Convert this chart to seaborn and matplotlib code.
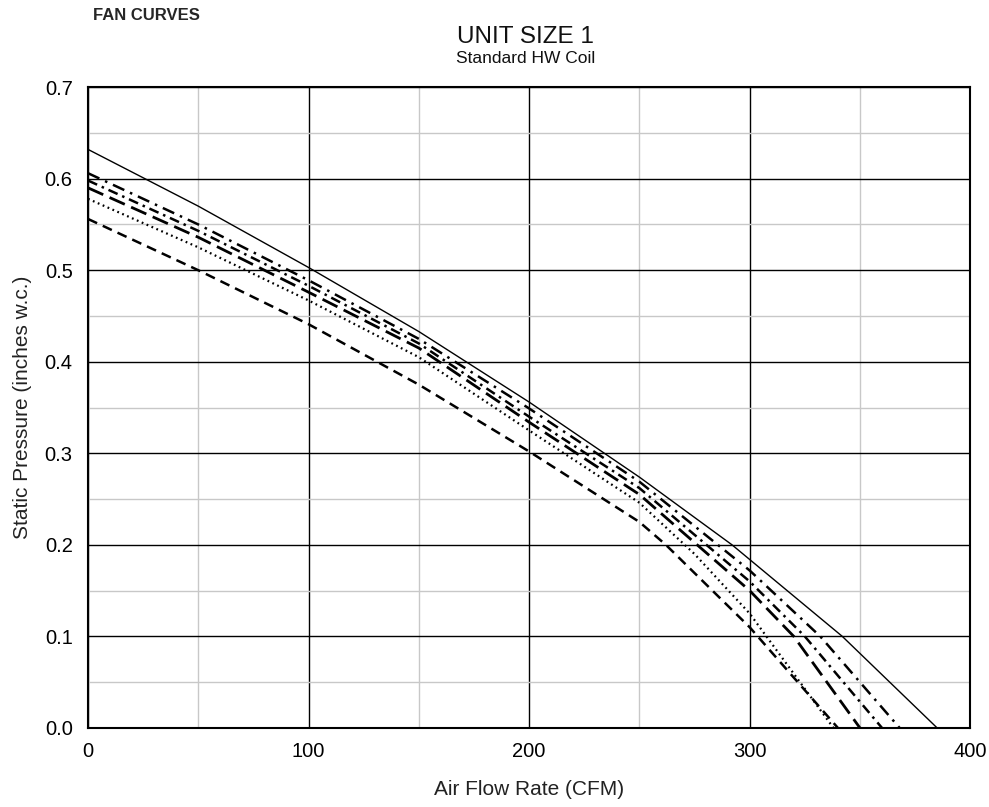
import matplotlib
matplotlib.use("Agg")
import matplotlib.pyplot as plt
from matplotlib.ticker import MultipleLocator
import seaborn as sns
import pandas as pd

sns.set_theme(style="white")
plt.rcParams["font.family"] = ["Liberation Sans", "DejaVu Sans"]

# Fan curves, airflow (CFM) vs static pressure (in. w.c.)
cfm_solid = [0, 50, 100, 150, 200, 250, 292, 342, 385]
sp_solid = [0.632, 0.570, 0.503, 0.433, 0.356, 0.274, 0.200, 0.100, 0.0]

cfm_dashdotdot = [0, 50, 100, 150, 200, 250, 300, 332, 368]
sp_dashdotdot = [0.606, 0.550, 0.489, 0.425, 0.349, 0.269, 0.172, 0.100, 0.0]

cfm_dashdot = [0, 50, 100, 150, 200, 250, 300, 325, 360]
sp_dashdot = [0.598, 0.543, 0.483, 0.420, 0.340, 0.262, 0.160, 0.100, 0.0]

cfm_longdash = [0, 50, 100, 150, 200, 250, 300, 320, 350]
sp_longdash = [0.590, 0.536, 0.476, 0.415, 0.334, 0.255, 0.150, 0.100, 0.0]

cfm_dotted = [0, 50, 100, 150, 200, 250, 275, 300, 338]
sp_dotted = [0.578, 0.525, 0.467, 0.405, 0.325, 0.246, 0.190, 0.125, 0.0]

cfm_dashed = [0, 50, 100, 150, 200, 250, 262, 300, 340]
sp_dashed = [0.556, 0.500, 0.441, 0.375, 0.302, 0.225, 0.200, 0.110, 0.0]

x_ticks = [0, 100, 200, 300, 400]
y_ticks = [0.0, 0.1, 0.2, 0.3, 0.4, 0.5, 0.6, 0.7]

series = [
    (cfm_solid, sp_solid, "-", 1.0),
    (cfm_dashdotdot, sp_dashdotdot, (0, (5, 2.5, 1, 2.5)), 1.8),
    (cfm_dashdot, sp_dashdot, (0, (4, 2, 1, 2)), 1.8),
    (cfm_longdash, sp_longdash, (0, (6, 2.5)), 2.0),
    (cfm_dotted, sp_dotted, (0, (0.8, 1.6)), 1.6),
    (cfm_dashed, sp_dashed, (0, (4, 2.5)), 1.8),
]

fig = plt.figure(figsize=(9.89, 8.07), dpi=100)
ax = fig.add_axes([0.089, 0.098, 0.892, 0.794])

for xs, ys, ls, lw in series:
    df = pd.DataFrame({"cfm": xs, "sp": ys})
    sns.lineplot(data=df, x="cfm", y="sp", ax=ax, color="black",
                 linestyle=ls, linewidth=lw, sort=False)

ax.set_xlim(0, 400)
ax.set_ylim(0, 0.7)
ax.set_xticks(x_ticks)
ax.set_yticks(y_ticks)
ax.set_xticklabels([str(v) for v in x_ticks])
ax.set_yticklabels([f"{v:.1f}" for v in y_ticks])
ax.xaxis.set_minor_locator(MultipleLocator(50))
ax.yaxis.set_minor_locator(MultipleLocator(0.05))
ax.grid(which="minor", color="#c8c8c8", linewidth=1.0)
ax.grid(which="major", color="black", linewidth=1.0)
ax.set_axisbelow(True)
ax.tick_params(which="both", length=0, labelsize=14.5, colors="black")
ax.tick_params(axis="x", pad=10)
ax.tick_params(axis="y", pad=11)
for s in ax.spines.values():
    s.set_color("black")
    s.set_linewidth(1.5)

ax.set_xlabel("Air Flow Rate (CFM)", fontsize=15, labelpad=14, color="#222222")
ax.set_ylabel("Static Pressure (inches w.c.)", fontsize=15, labelpad=9, color="#222222")

fig.text(0.531, 0.954, "UNIT SIZE 1", ha="center", va="center", fontsize=17.5, color="#111111")
fig.text(0.531, 0.928, "Standard HW Coil", ha="center", va="center", fontsize=12.5, color="#111111")
fig.text(0.094, 0.981, "FAN CURVES", ha="left", va="center", fontsize=12,
         fontweight="bold", family=["Liberation Sans Narrow", "Liberation Sans", "DejaVu Sans"])

fig.savefig("out.png", dpi=100, facecolor="white")
